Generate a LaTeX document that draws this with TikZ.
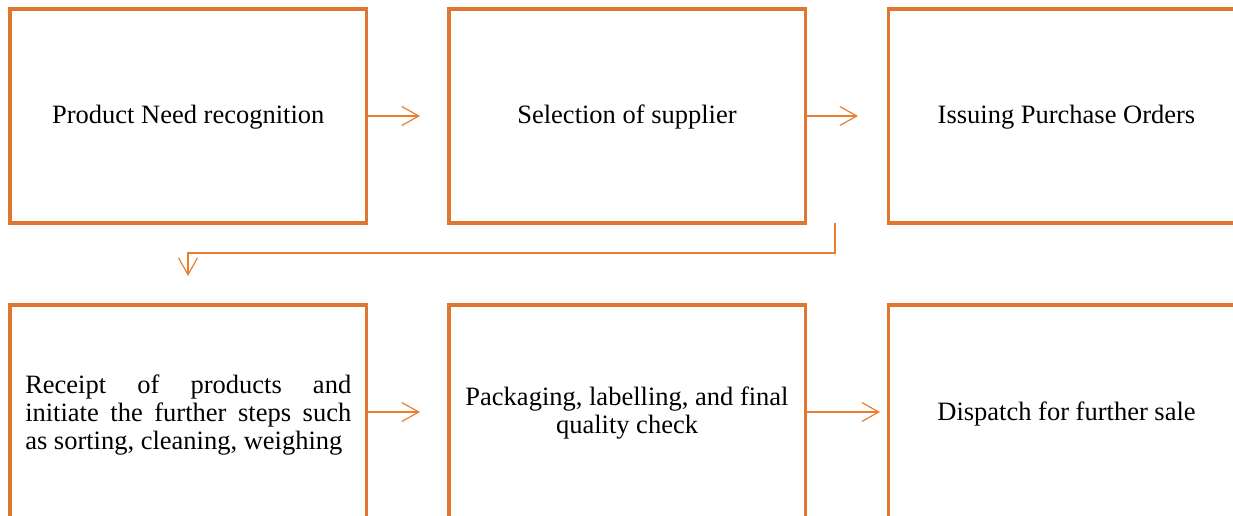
\documentclass[tikz,border=0pt]{standalone}
\usepackage{fontspec}
\setmainfont{Liberation Serif}
\usetikzlibrary{arrows.meta}
\definecolor{boxc}{RGB}{224,119,49}
\definecolor{arrc}{RGB}{237,125,49}
\tikzset{
  stepbox/.style={draw=boxc, line width=3.5pt, minimum width=356.5pt, minimum height=214pt,
    inner sep=0pt, font=\fontsize{26.5}{28}\selectfont, text=black,
    text height=20pt, text depth=4pt},
  flow/.style={draw=arrc, line width=1.2pt, -{Straight Barb[length=17pt,width=19pt,line width=1.2pt]}},
}
\begin{document}
\begin{tikzpicture}[x=1pt,y=-1pt]
\useasboundingbox (0,0) rectangle (1233,516);
\clip (0,0) rectangle (1233,516);
\node[stepbox] (b1) at (188.25,116) {Product Need recognition};
\node[stepbox] (b2) at (627,116) {Selection of supplier};
\node[stepbox] (b3) at (1066.5,116) {Issuing Purchase Orders};
\node[stepbox, align=justify, text width=326pt, text depth=58pt] (b4) at (188.25,412)
  {\tolerance=10000 \hyphenpenalty=10000 Receipt of products and\linebreak initiate the further steps such\linebreak as sorting, cleaning, weighing};
\node[stepbox, align=center, text height=48pt, text depth=6pt] (b5) at (627,412) {Packaging, labelling, and final\\quality check};
\node[stepbox] (b6) at (1066.5,412) {Dispatch for further sale};
\coordinate (e1) at (420,116);
\coordinate (e2) at (858,116);
\coordinate (e4) at (420,412);
\coordinate (e5) at (880,412);
\coordinate (s3) at (835,223);
\coordinate (k3) at (188,253);
\coordinate (e3) at (188,276);
\draw[flow] (b1.east) -- (e1);
\draw[flow] (b2.east) -- (e2);
\draw[flow] (s3) |- (k3) -- (e3);
\draw[flow] (b4.east) -- (e4);
\draw[flow] (b5.east) -- (e5);
\end{tikzpicture}
\end{document}
